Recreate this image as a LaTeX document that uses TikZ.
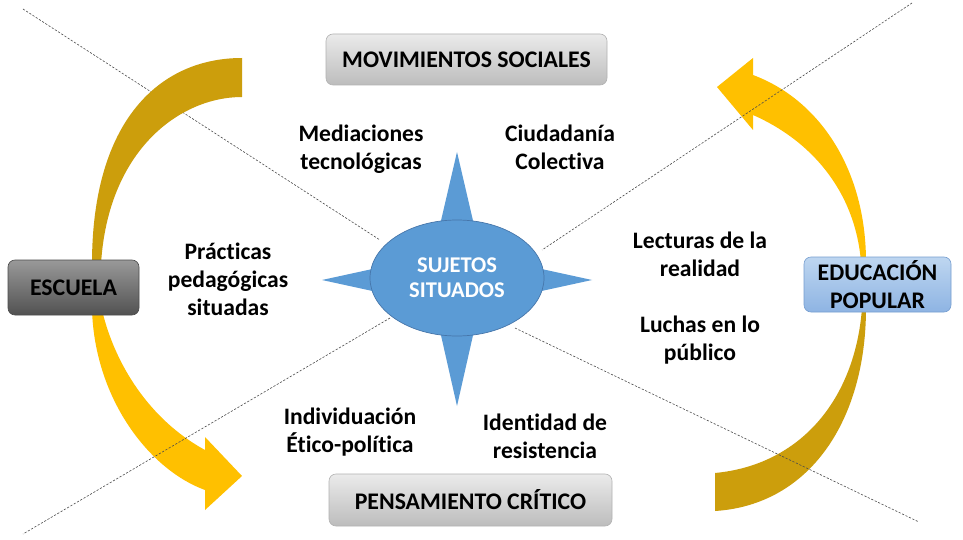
\documentclass[tikz,border=0pt]{standalone}
\usepackage{fontspec}
\setmainfont{Carlito}[RawFeature=-liga]
\usetikzlibrary{shapes.geometric}
\definecolor{gold}{RGB}{255,192,0}
\definecolor{darkgold}{RGB}{204,158,12}
\definecolor{starblue}{RGB}{91,155,213}
\definecolor{starline}{RGB}{70,118,170}
\definecolor{edutop}{RGB}{190,214,240}
\definecolor{edubot}{RGB}{142,180,227}
\definecolor{eduline}{RGB}{118,158,208}
\begin{document}
\begin{tikzpicture}[x=1pt,y=-1pt,
  lbl/.style={font=\fontsize{23.6}{28}\selectfont\bfseries, align=center, text=black, inner sep=0pt},
  boxbase/.style={rounded corners=7pt, line width=0.6pt, inner sep=0pt, align=center,
    font=\fontsize{23.8}{28}\selectfont\bfseries, text=black},
  graybox/.style={boxbase, draw=black!30, top color=black!8, bottom color=black!26},
  darkbox/.style={boxbase, draw=black!70, top color=black!40, bottom color=black!68},
  bluebox/.style={boxbase, draw=eduline, top color=edutop, bottom color=edubot},
  dashln/.style={dash pattern=on 2.2pt off 1.6pt, line width=0.6pt, draw=black!70}]
\useasboundingbox (0,0) rectangle (963,540);
\fill[white] (0,0) rectangle (963,540);

% dashed diagonals (coordinates)
\coordinate (a1) at (23,9);
\coordinate (a2) at (380,240);
\coordinate (a3) at (515,328);
\coordinate (a4) at (919,522);
\coordinate (b1) at (912,3);
\coordinate (b2) at (542,250);
\coordinate (b3) at (390,318);
\coordinate (b4) at (23,534);

\draw[dashln] (a1) -- (a2);

% left curved arrow
\fill[darkgold] (242,58) .. controls (160,58) and (92,120) .. (92,264) -- (101,264)
   .. controls (108,150) and (180,97) .. (242,97) -- cycle;
\fill[gold] (102,310) .. controls (115,365) and (150,420) .. (205,450) -- (205,437)
   -- (242,476) -- (205,510) -- (205,490) .. controls (150,470) and (95,400) .. (92,310) -- cycle;

% right curved arrow
\fill[gold] (861,262) .. controls (855,190) and (810,140) .. (753,115) -- (753,130)
   -- (717,87) -- (753,58) -- (753,75) .. controls (820,100) and (866,170) .. (866,262) -- cycle;
\fill[darkgold] (862,308) .. controls (855,400) and (800,465) .. (715,473) -- (715,511)
   .. controls (810,505) and (866,420) .. (866,308) -- cycle;

\draw[dashln] (a3) -- (a4);
\draw[dashln] (b1) -- (b2);
\draw[dashln] (b3) -- (b4);

% star
\fill[starblue] (457,152) -- (433,255) -- (481,255) -- cycle;
\fill[starblue] (457,406) -- (433,300) -- (481,300) -- cycle;
\fill[starblue] (322,280) -- (400,263) -- (400,297) -- cycle;
\fill[starblue] (592,280) -- (514,263) -- (514,297) -- cycle;
\node[ellipse, fill=starblue, draw=starline, line width=0.7pt, minimum width=174pt,
  minimum height=116pt, inner sep=0pt, align=center, text=white,
  font=\fontsize{22.5}{25}\selectfont\bfseries] (suj) at (457,278) {SUJETOS\\SITUADOS};

% boxes
\node[graybox, minimum width=281pt, minimum height=51pt] (mov) at (466.5,59.5) {MOVIMIENTOS SOCIALES};
\node[graybox, minimum width=283pt, minimum height=52pt] (pen) at (470.5,500) {PENSAMIENTO CRÍTICO};
\node[darkbox, minimum width=131pt, minimum height=55pt] (esc) at (73.5,287.5) {ESCUELA};
\node[bluebox, minimum width=147pt, minimum height=55pt] (edu) at (877.5,284.5) {EDUCACIÓN\\POPULAR};

% labels
\node[lbl] (med) at (361,149) {Mediaciones\\tecnológicas};
\node[lbl] (ciu) at (560,147) {Ciudadanía\\Colectiva};
\node[lbl] (pra) at (228,279) {Prácticas\\pedagógicas\\situadas};
\node[lbl] (lec) at (700,254) {Lecturas de la\\realidad};
\node[lbl] (luc) at (700,340) {Luchas en lo\\público};
\node[lbl] (ind) at (350,432) {Individuación\\Ético-política};
\node[lbl] (ide) at (545,436) {Identidad de\\resistencia};
\end{tikzpicture}
\end{document}
